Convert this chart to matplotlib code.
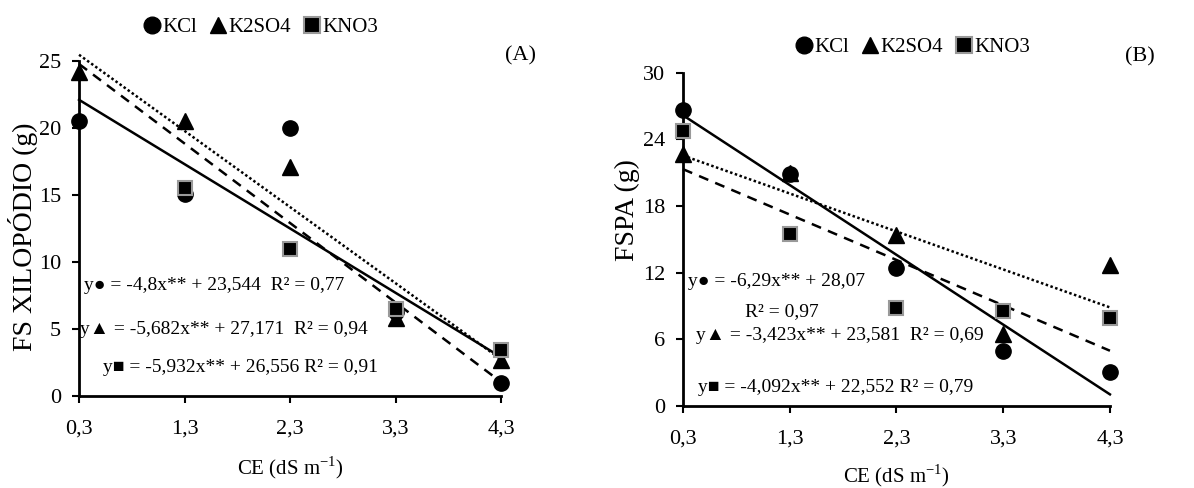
import matplotlib.pyplot as plt
from matplotlib.lines import Line2D
import numpy as np

plt.rcParams['font.family'] = ['Liberation Serif', 'DejaVu Sans']

# Data
ce = [0.3, 1.3, 2.3, 3.3, 4.3]
ce_labels = ['0,3', '1,3', '2,3', '3,3', '4,3']

# (A) FS XILOPODIO (g)
a_kcl = [20.5, 15.1, 20.0, 6.3, 1.0]
a_k2so4 = [24.2, 20.5, 17.1, 5.8, 2.7]
a_kno3 = [28.2, 15.5, 11.0, 6.5, 3.4]   # first point lies above the axis range
# regression coefficients (slope, intercept)
a_fit_kcl = (-4.8, 23.544)
a_fit_k2so4 = (-5.682, 27.171)
a_fit_kno3 = (-5.932, 26.556)

# (B) FSPA (g)
b_kcl = [26.7, 20.9, 12.4, 4.9, 3.0]
b_k2so4 = [22.7, 21.0, 15.4, 6.5, 12.7]
b_kno3 = [24.8, 15.5, 8.8, 8.5, 7.9]
b_fit_kcl = (-6.29, 28.07)
b_fit_k2so4 = (-3.423, 23.581)
b_fit_kno3 = (-4.092, 22.552)

fig = plt.figure(figsize=(11.94, 4.88), dpi=100)
axA = fig.add_axes([0.0662, 0.1885, 0.3534, 0.6865])
axB = fig.add_axes([0.572, 0.1686, 0.3576, 0.682])

FS = 14
TICK_FS = 16
LABEL_FS = 20
mk = dict(linestyle='none', clip_on=False, zorder=3)


def draw_panel(ax, kcl, k2so4, kno3, fits, ylim, yticks):
    x = np.array(ce)
    top = ylim[1]
    ax.plot(ce, np.ma.masked_greater(kcl, top), marker='o', color='black',
            markersize=11, **mk)
    ax.plot(ce, np.ma.masked_greater(k2so4, top), marker='^', color='black',
            markersize=11, **mk)
    ax.plot(ce, np.ma.masked_greater(kno3, top), marker='s', color='black',
            markeredgecolor='#999999', markeredgewidth=1.5, markersize=10, **mk)
    styles = ['-', '--', ':']
    for (m, b), ls in zip(fits, styles):
        ln, = ax.plot(x, m * x + b, color='black', linestyle=ls, lw=1.8,
                      clip_on=False, zorder=2)
        if ls == '--':
            ln.set_dashes((4, 3))
        if ls == ':':
            ln.set_dashes((1, 1))
    ax.set_xlim(0.3, 4.3)
    ax.set_ylim(*ylim)
    ax.set_xticks(ce)
    ax.set_xticklabels(ce_labels, fontsize=TICK_FS)
    ax.set_yticks(yticks)
    ax.set_yticklabels([str(t) for t in yticks], fontsize=TICK_FS)
    for s in ['top', 'right']:
        ax.spines[s].set_visible(False)
    for s in ['left', 'bottom']:
        ax.spines[s].set_linewidth(2)
    ax.tick_params(axis='y', direction='out', length=5, width=1.5, pad=8)
    ax.tick_params(axis='x', direction='out', length=5, width=1.5, pad=12)
    ax.set_xlabel('CE (dS m$^{\\mathregular{-1}}$)', fontsize=15)


draw_panel(axA, a_kcl, a_k2so4, a_kno3,
           [a_fit_kcl, a_fit_kno3, a_fit_k2so4], (0, 25), [0, 5, 10, 15, 20, 25])
axA.set_ylabel('FS XILOPÓDIO (g)', fontsize=LABEL_FS)
axA.yaxis.set_label_coords(-0.097, 0.475)
axA.xaxis.set_label_coords(0.5, -0.175)

draw_panel(axB, b_kcl, b_k2so4, b_kno3,
           [b_fit_kcl, b_fit_kno3, b_fit_k2so4], (0, 30), [0, 6, 12, 18, 24, 30])
axB.set_ylabel('FSPA (g)', fontsize=LABEL_FS)
axB.yaxis.set_label_coords(-0.10, 0.588)
axB.xaxis.set_label_coords(0.5, -0.17)

# legends
handles = [
    Line2D([], [], marker='o', color='black', linestyle='none', markersize=12),
    Line2D([], [], marker='^', color='black', linestyle='none', markersize=12),
    Line2D([], [], marker='s', color='black', markeredgecolor='#999999',
           markeredgewidth=1.5, linestyle='none', markersize=11),
]
names = ['KCl', 'K2SO4', 'KNO3']
for cx, cy in [(260, 27), (912, 47)]:
    fig.legend(handles, names, loc='center', bbox_to_anchor=(cx / 1194, 1 - cy / 488),
               ncol=3, frameon=False, fontsize=FS + 1, handletextpad=0.0,
               columnspacing=0.5, handlelength=1.0)

fig.text(520 / 1194, 1 - 56 / 488, '(A)', fontsize=TICK_FS, ha='center', va='center')
fig.text(1140 / 1194, 1 - 57 / 488, '(B)', fontsize=TICK_FS, ha='center', va='center')


# equations
def ftext(x, y, s):
    fig.text(x / 1194, 1 - y / 488, s, fontsize=FS, ha='left', va='center')


ftext(84, 285, 'y● = -4,8x** + 23,544  R² = 0,77')
ftext(80, 330, 'y▲ = -5,682x** + 27,171  R² = 0,94')
ftext(103, 367, 'y■ = -5,932x** + 26,556 R² = 0,91')

ftext(688, 282, 'y● = -6,29x** + 28,07')
ftext(745, 312, 'R² = 0,97')
ftext(696, 335, 'y▲ = -3,423x** + 23,581  R² = 0,69')
ftext(698, 387, 'y■ = -4,092x** + 22,552 R² = 0,79')

fig.savefig('out.png', dpi=100)
